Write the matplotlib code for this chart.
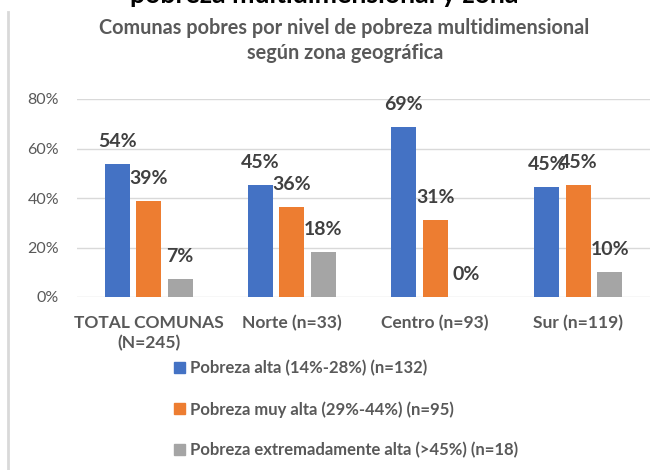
import matplotlib
matplotlib.use("Agg")
from matplotlib import pyplot as plt
from matplotlib.patches import Patch
from matplotlib.lines import Line2D
import numpy as np

# data (percent of comunas in each zone)
zonas = ["TOTAL COMUNAS\n(N=245)", "Norte (n=33)", "Centro (n=93)", "Sur (n=119)"]
alta = [53.9, 45.45, 68.8, 44.54]
muy_alta = [38.8, 36.4, 31.2, 45.4]
extrema = [7.3, 18.2, 0.0, 10.1]
series_names = ["Pobreza alta (14%-28%) (n=132)",
                "Pobreza muy alta (29%-44%) (n=95)",
                "Pobreza extremadamente alta (>45%) (n=18)"]
yticks = [0, 20, 40, 60, 80]

colors = ["#4472C4", "#ED7D31", "#A5A5A5"]
grey_txt = "#595959"
font = "Lato"

fig = plt.figure(figsize=(6.67, 4.70), dpi=100)
ax = fig.add_axes([77/667, 1-297/470, 573/667, 198/470])

x = np.arange(len(zonas))
w = 0.175
step = 0.22
for i, (vals, c) in enumerate(zip([alta, muy_alta, extrema], colors)):
    pos = x + (i-1)*step
    ax.bar(pos, vals, w, color=c, zorder=3)
    for p, v in zip(pos, vals):
        ax.annotate("%d%%" % int(v + 0.5), (p, v), xytext=(0, 16), textcoords="offset points",
                    ha="center", va="center", fontsize=14, fontweight="bold",
                    color="#404040", family=font)

ax.set_xlim(-0.5, 3.5)
ax.set_ylim(0, 80)
ax.set_yticks(yticks)
ax.set_yticklabels(["%d%%" % t for t in yticks], family=font, fontsize=11.5, color=grey_txt)
ax.set_xticks(x)
ax.set_xticklabels(zonas, family=font, fontsize=12.5, fontweight="bold", color=grey_txt,
                   linespacing=1.3)
ax.tick_params(axis="both", length=0)
ax.tick_params(axis="y", pad=13)
ax.tick_params(axis="x", pad=13)
ax.grid(axis="y", color="#d9d9d9", linewidth=1, zorder=0)
for s in ax.spines.values():
    s.set_visible(False)

# main title, cut off at the very top
fig.text(324/667, 1-3/470, "pobreza multidimensional y zona", ha="center", va="baseline",
         fontsize=19.3, fontweight="bold", color="black", family=font)
fig.text(344/667, 1-34/470, "Comunas pobres por nivel de pobreza multidimensional",
         ha="center", va="baseline", fontsize=14.3, fontweight="bold", color=grey_txt, family=font)
fig.text(345/667, 1-59/470, "según zona geográfica",
         ha="center", va="baseline", fontsize=14.3, fontweight="bold", color=grey_txt, family=font)

# left border line
fig.add_artist(Line2D([8/667, 8/667], [0, 1-12/470], color="#d9d9d9", linewidth=2))

handles = [Patch(color=c) for c in colors]
leg = fig.legend(handles, series_names, loc="upper left", bbox_to_anchor=(159/667, 1-345/470),
                 frameon=False, handlelength=0.65, handleheight=0.65, handletextpad=0.3,
                 labelspacing=1.48, prop={"family": font, "weight": "bold", "size": 12})
for t in leg.get_texts():
    t.set_color(grey_txt)

fig.savefig("out.png", dpi=100)
